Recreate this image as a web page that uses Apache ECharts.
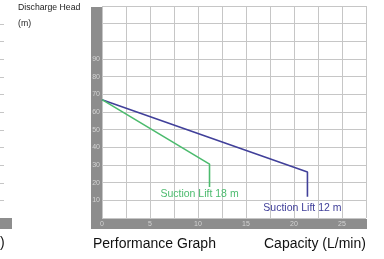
<!DOCTYPE html>
<html>
<head>
<meta charset="utf-8">
<script src="https://cdn.jsdelivr.net/npm/echarts@6/dist/echarts.min.js"></script>
<style>
  html, body { margin: 0; padding: 0; background: #fff; }
  #chart { width: 384px; height: 259px; }
</style>
</head>
<body>
<div id="chart"></div>
<script>
// curve data: [capacity L/min, head m]
const lift12 = [[0, 67], [21.4, 26], [21.4, 12]];
const lift18 = [[0, 67], [11.2, 30.5], [11.2, 17.5]];
const seriesNames = ['Suction Lift 12 m', 'Suction Lift 18 m'];
const seriesColors = ['#41409a', '#4cbb6e'];
const xTickLabels = [0, 5, 10, 15, 20, 25];
const yTickLabels = [10, 20, 30, 40, 50, 60, 70, 80, 90];

const FONT = 'Liberation Sans, Arial, sans-serif';
const BAND = '#8d8d8d';

let chart = echarts.init(document.getElementById('chart'));

function withEndLabel(data, name, offset){
	return data.map(function(p, i){
		if(i !== data.length - 1) return p;
		return {
			value: p,
			label: {
				show: true,
				position: 'bottom',
				distance: 0,
				offset: offset,
				formatter: name
			}
		};
	});
}

let option = {
	animation: false,
	grid: { left: 102, right: 18, top: 6, bottom: 41 },
	xAxis: {
		type: 'value',
		min: 0, max: 27.5, interval: 2.5,
		axisLine: { show: false },
		axisTick: { show: false },
		splitLine: { lineStyle: { color: '#c6c6c6', width: 1 } },
		axisLabel: {
			margin: 3,
			fontSize: 7,
			fontFamily: FONT,
			color: '#d4d4d4',
			showMaxLabel: false,
			formatter: function(v){ return xTickLabels.indexOf(v) >= 0 ? String(v) : ''; }
		}
	},
	yAxis: {
		type: 'value',
		min: 0, max: 120, interval: 10,
		axisLine: { show: false },
		axisTick: { show: false },
		splitLine: { lineStyle: { color: '#c6c6c6', width: 1 } },
		axisLabel: {
			margin: 2,
			fontSize: 7,
			fontFamily: FONT,
			color: '#d4d4d4',
			formatter: function(v){ return yTickLabels.indexOf(v) >= 0 ? String(v) : ''; }
		}
	},
	graphic: [
		// gray axis bands
		{ type: 'rect', z: -1, shape: { x: 91, y: 7, width: 11, height: 222 }, style: { fill: BAND } },
		{ type: 'rect', z: -1, shape: { x: 91, y: 219, width: 276, height: 10 }, style: { fill: BAND } },
		{ type: 'text', left: 18, top: 3, style: { text: 'Discharge Head', font: '500 8.7px ' + FONT, fill: '#222' } },
		{ type: 'text', left: 18, top: 19, style: { text: '(m)', font: '8.7px ' + FONT, fill: '#222' } },
		{ type: 'text', left: 93, top: 237, style: { text: 'Performance Graph', font: '14px ' + FONT, fill: '#111' } },
		{ type: 'text', left: 264, top: 237, style: { text: 'Capacity (L/min)', font: '14px ' + FONT, fill: '#111' } },
		// remnants of the neighbouring chart at the left edge
		{ type: 'rect', shape: { x: 0, y: 218, width: 12, height: 11 }, style: { fill: BAND } },
		{ type: 'text', left: 0, top: 236, style: { text: ')', font: '14px ' + FONT, fill: '#111' } }
	],
	series: [
		{
			name: seriesNames[0],
			type: 'line',
			z: 5,
			symbol: 'circle',
			symbolSize: 0,
			data: withEndLabel(lift12, seriesNames[0], [-5, 6]),
			lineStyle: { color: seriesColors[0], width: 1.6 },
			itemStyle: { color: seriesColors[0] },
			label: { color: seriesColors[0], fontSize: 10.5, fontFamily: FONT }
		},
		{
			name: seriesNames[1],
			type: 'line',
			z: 5,
			symbol: 'circle',
			symbolSize: 0,
			data: withEndLabel(lift18, seriesNames[1], [-10, 2]),
			lineStyle: { color: seriesColors[1], width: 1.6 },
			itemStyle: { color: seriesColors[1] },
			label: { color: seriesColors[1], fontSize: 10.5, fontFamily: FONT }
		}
	]
};
chart.setOption(option);

// little tick dashes at the left edge, lined up with the grid rows
let ticks = [];
for(let v = 10; v <= 110; v += 10){
	let y = Math.round(chart.convertToPixel({ yAxisIndex: 0 }, v)) + 0.5;
	ticks.push({ type: 'line', shape: { x1: 0, y1: y, x2: 4, y2: y }, style: { stroke: '#c6c6c6', lineWidth: 1 } });
}
chart.setOption({ graphic: option.graphic.concat(ticks) });
</script>
</body>
</html>
